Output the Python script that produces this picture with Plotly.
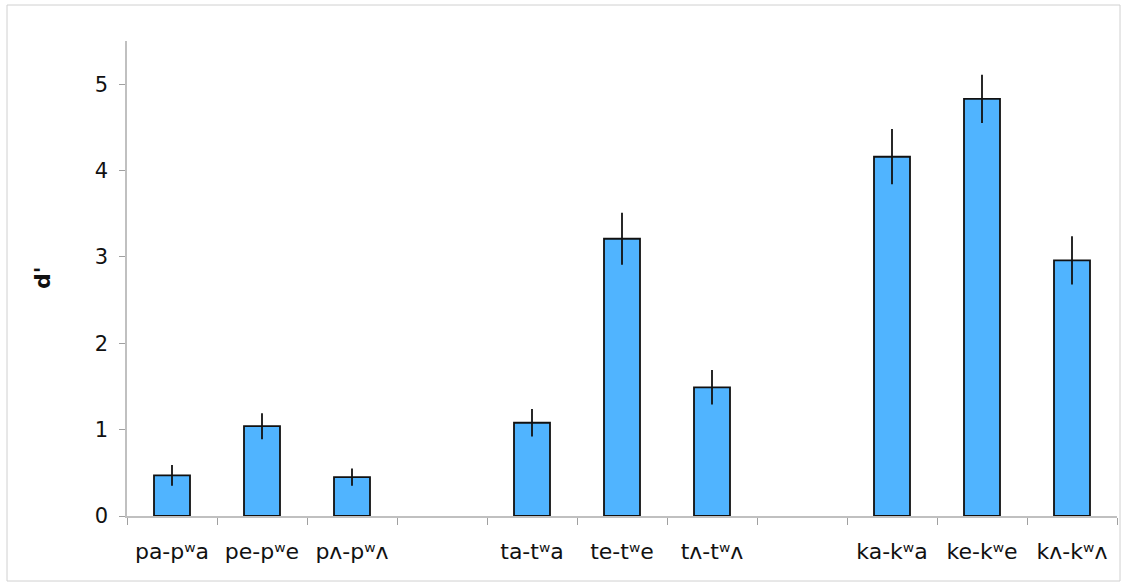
import plotly.graph_objects as go

categories = ["pa-pʷa", "pe-pʷe", "pʌ-pʷʌ", " ",
              "ta-tʷa", "te-tʷe", "tʌ-tʷʌ", "  ",
              "ka-kʷa", "ke-kʷe", "kʌ-kʷʌ"]
dprime = [0.47, 1.04, 0.45, None, 1.08, 3.21, 1.49, None, 4.16, 4.83, 2.96]
errors = [0.12, 0.15, 0.10, None, 0.16, 0.30, 0.20, None, 0.32, 0.28, 0.28]
y_ticks = [0, 1, 2, 3, 4, 5]

W, H = 1123, 584
ml, mr, mt, mb = 127, 6, 41, 68

fig = go.Figure()
fig.add_trace(go.Bar(
    x=categories, y=dprime, width=0.4,
    marker=dict(color="#50B4FF", line=dict(color="#111111", width=1.8)),
    error_y=dict(type="data", array=errors, visible=True, color="#111111",
                 thickness=1.8, width=0),
))

pw = W - ml - mr
ph = H - mt - mb
fig.add_shape(type="rect", xref="paper", yref="paper",
              x0=(7 - ml) / pw, x1=(1120 - ml) / pw,
              y0=(H - mb - 581) / ph, y1=(H - mb - 5) / ph,
              line=dict(color="#d0d0d0", width=1), layer="below")

fig.add_annotation(text="<b>d'</b>", xref="paper", yref="paper",
                   x=(42 - ml) / pw, y=(H - mb - 278) / ph,
                   xanchor="center", yanchor="middle", textangle=-90,
                   showarrow=False, font=dict(size=22, color="#111111"))

fig.update_layout(
    width=W, height=H,
    margin=dict(l=ml, r=mr, t=mt, b=mb),
    plot_bgcolor="white", paper_bgcolor="white",
    showlegend=False,
    font=dict(family="DejaVu Sans", size=18, color="#111111"),
    xaxis=dict(type="category", categoryorder="array", categoryarray=categories,
               showline=True, linecolor="#c0c0c0", linewidth=1.5,
               ticks="outside", tickson="boundaries", ticklen=7,
               tickcolor="#a0a0a0", tickwidth=1.2,
               showgrid=False, tickfont=dict(size=22), ticklabelstandoff=15),
    yaxis=dict(range=[0, 5.5], tickvals=y_ticks, showline=True,
               linecolor="#c0c0c0", linewidth=1.5, ticks="outside",
               ticklen=6, tickcolor="#a0a0a0", tickwidth=1.2,
               showgrid=False, zeroline=False, tickfont=dict(size=21),
               ticklabelstandoff=7),
)

fig.write_html("out.html", config={"displayModeBar": False},
               post_script="document.body.style.margin='0px';")
